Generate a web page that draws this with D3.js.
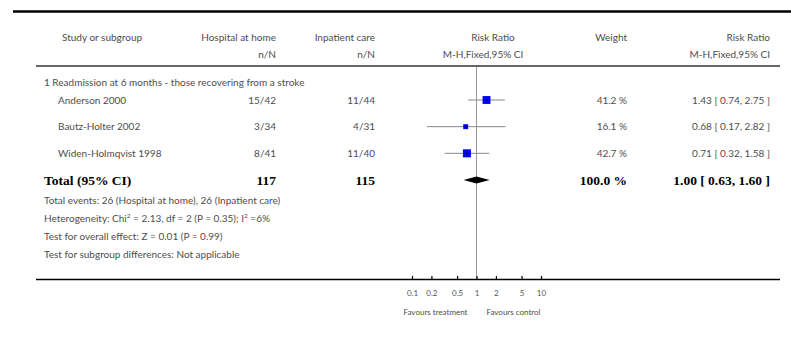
<!DOCTYPE html>
<html>
<head>
<meta charset="utf-8">
<script src="https://cdn.jsdelivr.net/npm/d3@7"></script>
<style>
  html, body { margin: 0; padding: 0; background: #fff; }
  svg { display: block; }
  .t { font-family: Lato, "Open Sans", sans-serif; font-size: 10px; fill: #4d4d4d; }
  .b { font-family: "Liberation Serif", "DejaVu Serif", serif; font-weight: bold; font-size: 13.5px; fill: #000; }
  .tick text { font-family: Lato, "Open Sans", sans-serif; font-size: 8px; fill: #555; }
</style>
</head>
<body>
<script>
// Forest plot: readmission at 6 months, hospital at home vs inpatient care
const studies = ["Anderson 2000", "Bautz-Holter 2002", "Widen-Holmqvist 1998"];
const eventsHome = [15, 3, 8];
const totalHome = [42, 34, 41];
const eventsInpatient = [11, 4, 11];
const totalInpatient = [44, 31, 40];
const riskRatio = [1.43, 0.68, 0.71];
const ciLow = [0.74, 0.17, 0.32];
const ciHigh = [2.75, 2.82, 1.58];
const weights = [41.2, 16.1, 42.7];
const pooled = [1.00, 0.63, 1.60];       // estimate, lower, upper
const pooledTotals = [117, 115];        // hospital at home, inpatient care
const axisTicks = [0.1, 0.2, 0.5, 1, 2, 5, 10];
const axisTickLabels = ["0.1", "0.2", "0.5", "1", "2", "5", "10"];

const W = 791, H = 356;
const svg = d3.select("body").append("svg").attr("width", W).attr("height", H);

const x = d3.scaleLog().domain([0.1, 10]).range([412, 541]);
const size = d3.scaleSqrt().domain([0, 100]).range([0, 12.3]);
const rowY = d3.scalePoint().domain(d3.range(studies.length + 1)).range([100, 180]);

const fmt2 = d3.format(".2f");
const colName = 58, colLeft = 44, colHome = 276, colInp = 375, colW = 627, colCI = 770;

// rules
svg.append("line").attr("x1", 13).attr("x2", 791).attr("y1", 11.5).attr("y2", 11.5)
  .attr("stroke", "#000").attr("stroke-width", 2.6);
svg.append("line").attr("x1", 36).attr("x2", 780).attr("y1", 66).attr("y2", 66)
  .attr("stroke", "#333").attr("stroke-width", 1.6);

// header
const hdr = (txt, xx, yy, anchor) => svg.append("text").attr("class", "t")
  .attr("x", xx).attr("y", yy).attr("text-anchor", anchor).text(txt);
hdr("Study or subgroup", 62, 41, "start");
hdr("Hospital at home", colHome, 41, "end");
hdr("n/N", colHome, 58, "end");
hdr("Inpatient care", colInp, 41, "end");
hdr("n/N", colInp, 58, "end");
hdr("Risk Ratio", 493, 41, "middle");
hdr("M-H,Fixed,95% CI", 483, 58, "middle");
hdr("Weight", colW, 41, "end");
hdr("Risk Ratio", colCI, 41, "end");
hdr("M-H,Fixed,95% CI", colCI, 58, "end");

hdr("1 Readmission at 6 months - those recovering from a stroke", colLeft, 86, "start");

// line of no effect
svg.append("line").attr("x1", x(1)).attr("x2", x(1)).attr("y1", 67).attr("y2", 279)
  .attr("stroke", "#999").attr("stroke-width", 1);

// study rows
studies.forEach((s, i) => {
  const y = rowY(i);
  hdr(s, colName, y + 3.5, "start");
  hdr(eventsHome[i] + "/" + totalHome[i], colHome, y + 3.5, "end");
  hdr(eventsInpatient[i] + "/" + totalInpatient[i], colInp, y + 3.5, "end");
  hdr(weights[i].toFixed(1) + " %", colW, y + 3.5, "end");
  hdr(fmt2(riskRatio[i]) + " [ " + fmt2(ciLow[i]) + ", " + fmt2(ciHigh[i]) + " ]", colCI, y + 3.5, "end");

  svg.append("line").attr("x1", x(ciLow[i])).attr("x2", x(ciHigh[i]))
    .attr("y1", y).attr("y2", y).attr("stroke", "#888").attr("stroke-width", 1);
  const s2 = size(weights[i]);
  svg.append("rect").attr("x", x(riskRatio[i]) - s2 / 2).attr("y", y - s2 / 2)
    .attr("width", s2).attr("height", s2).attr("fill", "#0000ff");
  svg.append("rect").attr("x", x(riskRatio[i]) - 0.75).attr("y", y - 0.75)
    .attr("width", 1.5).attr("height", 1.5).attr("fill", "#000");
});

// total row
const yT = rowY(studies.length);
const bold = (txt, xx, anchor) => svg.append("text").attr("class", "b")
  .attr("x", xx).attr("y", yT + 4.5).attr("text-anchor", anchor).text(txt);
bold("Total (95% CI)", colLeft, "start");
bold(pooledTotals[0], colHome, "end");
bold(pooledTotals[1], colInp, "end");
bold(d3.sum(weights).toFixed(1) + " %", colW, "end");
bold(fmt2(pooled[0]) + " [ " + fmt2(pooled[1]) + ", " + fmt2(pooled[2]) + " ]", colCI, "end");

svg.append("path")
  .attr("d", `M${x(pooled[1])},${yT} L${x(pooled[0])},${yT - 3.5} L${x(pooled[2])},${yT} L${x(pooled[0])},${yT + 3.5} Z`)
  .attr("fill", "#000");

// summary statistics
const totEvH = d3.sum(eventsHome), totEvI = d3.sum(eventsInpatient);
hdr(`Total events: ${totEvH} (Hospital at home), ${totEvI} (Inpatient care)`, colLeft, 204, "start");
const het = svg.append("text").attr("class", "t").attr("x", colLeft).attr("y", 222);
het.append("tspan").text("Heterogeneity: Chi");
het.append("tspan").attr("font-size", "6.5px").style("font-size", "6.5px").attr("dy", -4).text("2");
het.append("tspan").attr("dy", 4).text(" = 2.13, df = 2 (P = 0.35); I");
het.append("tspan").attr("font-size", "6.5px").style("font-size", "6.5px").attr("dy", -4).text("2");
het.append("tspan").attr("dy", 4).text(" =6%");
hdr("Test for overall effect: Z = 0.01 (P = 0.99)", colLeft, 240, "start");
hdr("Test for subgroup differences: Not applicable", colLeft, 258, "start");

// axis
svg.append("line").attr("x1", 36).attr("x2", 780).attr("y1", 279.5).attr("y2", 279.5)
  .attr("stroke", "#000").attr("stroke-width", 1.5);
const ax = svg.append("g").attr("transform", "translate(0,279)")
  .call(d3.axisBottom(x).tickValues(axisTicks).tickSize(-3).tickPadding(11)
    .tickFormat((d, i) => axisTickLabels[i]));
ax.select(".domain").remove();
ax.selectAll(".tick line").attr("stroke", "#000").attr("stroke-width", 1.2);

svg.append("text").attr("class", "t").style("font-size", "8px")
  .attr("x", x(1) - 9).attr("y", 315).attr("text-anchor", "end").text("Favours treatment");
svg.append("text").attr("class", "t").style("font-size", "8px")
  .attr("x", x(1) + 10).attr("y", 315).attr("text-anchor", "start").text("Favours control");
</script>
</body>
</html>
